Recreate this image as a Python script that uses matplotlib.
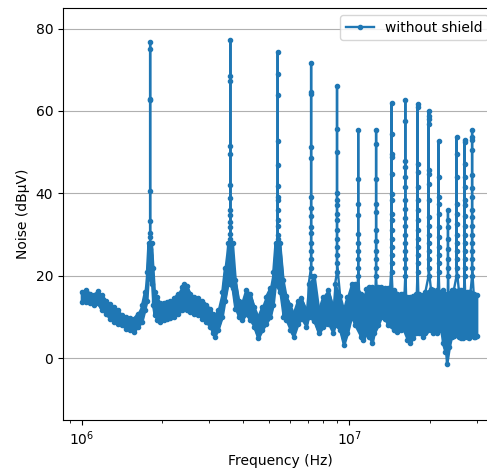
import numpy as np
import matplotlib
matplotlib.use('Agg')
import matplotlib.pyplot as plt

# noise floor: frequency (MHz), lower and upper edge of the band (dBuV)
floor_mhz = [1.000, 1.035, 1.071, 1.109, 1.148, 1.188, 1.230, 1.273, 1.318, 1.364,
             1.412, 1.462, 1.513, 1.566, 1.621, 1.678, 1.720, 1.752, 1.775, 1.822,
             1.845, 1.870, 1.910, 1.960, 2.02, 2.08, 2.14, 2.21, 2.29, 2.37,
             2.42, 2.47, 2.54, 2.63, 2.72, 2.82, 2.92, 3.02, 3.08, 3.14,
             3.23, 3.35, 3.43, 3.52, 3.66, 3.75, 3.86, 3.98, 4.12, 4.26,
             4.41, 4.57, 4.73, 4.89, 5.07, 5.20, 5.30, 5.50, 5.66, 5.81,
             6.02, 6.20, 6.44, 6.62, 6.91, 7.05, 7.40, 7.70, 8.00, 8.35,
             8.70, 8.85, 9.25, 9.55, 9.85, 10.2, 10.5, 11.05, 11.3, 11.6,
             11.9, 12.2, 12.4, 12.85, 13.2, 13.55, 13.95, 14.75, 15.15, 15.55,
             15.9, 16.5, 16.9, 17.35, 17.7, 18.3, 18.8, 19.25, 20.2, 20.65,
             21.2, 21.95, 22.4, 22.9, 23.2, 23.7, 24.15, 24.6, 25.7, 26.2,
             26.6, 27.5, 28.0, 28.4, 29.2, 29.6, 30.0]
floor_lo = [13.6, 13.6, 13.3, 12.8, 13.3, 11.6, 10.8, 9.6, 8.8, 8.4,
            8.0, 7.2, 6.8, 6.4, 7.6, 8.8, 11.6, 14.0, 20.0, 18.0,
            13.0, 10.5, 9.2, 8.8, 9.2, 9.6, 9.8, 10.0, 10.8, 11.6,
            12.0, 11.8, 11.2, 10.8, 10.6, 9.6, 8.8, 7.6, 6.0, 5.2,
            6.8, 10.0, 14.0, 18.0, 17.0, 12.0, 10.0, 9.2, 10.8, 9.2,
            7.6, 4.8, 6.8, 8.4, 10.0, 13.0, 18.0, 16.0, 10.0, 9.2,
            6.8, 5.2, 8.4, 9.6, 7.6, 10.0, 9.0, 6.0, 7.6, 8.4,
            6.0, 8.0, 6.8, 3.2, 6.0, 10.0, 8.0, 5.2, 4.4, 6.0,
            5.2, 3.6, 6.0, 8.0, 10.0, 9.6, 8.0, 6.8, 6.4, 6.8,
            7.0, 4.4, 3.6, 5.0, 6.0, 6.0, 5.2, 6.0, 6.8, 6.0,
            6.2, 6.8, 3.6, 1.5, -1.3, 2.7, 5.2, 5.5, 5.2, 4.8,
            5.0, 5.2, 5.0, 5.5, 5.2, 5.2, 5.4]
floor_hi = [16.1, 16.6, 15.7, 15.3, 16.2, 15.3, 14.0, 13.2, 12.4, 11.6,
            10.4, 10.0, 9.8, 9.6, 10.8, 12.8, 16.0, 21.0, 28.0, 28.0,
            22.0, 16.0, 14.9, 13.3, 13.5, 13.6, 14.0, 14.5, 15.6, 17.3,
            18.0, 17.5, 15.7, 14.9, 14.5, 14.0, 13.0, 12.0, 10.8, 10.0,
            11.6, 16.0, 22.0, 28.0, 28.0, 19.0, 14.0, 13.3, 16.5, 15.7,
            12.4, 10.0, 12.4, 14.9, 17.0, 21.0, 28.0, 28.0, 19.0, 15.0,
            12.8, 10.8, 14.0, 14.5, 11.6, 18.0, 20.0, 11.6, 14.9, 16.5,
            12.4, 18.0, 15.0, 11.6, 14.9, 18.1, 18.0, 15.7, 14.9, 16.9,
            17.3, 17.3, 17.0, 17.3, 17.3, 17.0, 17.0, 16.5, 15.7, 15.7,
            15.5, 14.9, 14.9, 15.0, 15.5, 15.7, 15.3, 16.0, 16.9, 16.5,
            16.5, 16.1, 16.5, 15.7, 14.9, 15.7, 16.5, 16.5, 16.5, 16.5,
            16.3, 16.1, 16.0, 16.0, 15.7, 15.3, 15.3]

# harmonic spikes: frequency (MHz), peak level and the other samples seen on each spike
peak_mhz = [1.8, 3.59, 5.4, 7.2, 9.0, 10.8, 12.6, 14.4, 16.2, 18.0, 19.8, 21.6, 23.4, 25.2, 27.0, 28.8]
peak_top = [76.8, 77.3, 74.4, 71.6, 66.0, 55.3, 55.3, 62.0, 62.6, 61.7, 59.9, 52.6, 35.9, 53.6, 53.0, 55.3]
peak_flank = [
    [75.0, 63.0, 62.7, 40.6, 33.2, 30.3, 29.5, 28, 26.5, 25, 23.5, 22],
    [68.6, 67.2, 51.5, 49.5, 42.1, 38.9, 35.9, 34.7, 33.0, 31.8, 30.2, 29, 27.5, 26, 24.5, 23],
    [69.0, 64.0, 52.6, 47.0, 41.9, 39.1, 38.3, 35.9, 33.6, 32.2, 29.8, 29.0, 27.0, 25, 23, 21],
    [64.6, 64.2, 51.3, 48.5, 39.2, 36.4, 34.4, 31.9, 30.3, 28, 26, 24, 22, 20],
    [55.7, 50.1, 40.1, 38.3, 37.1, 35.1, 33.5, 31.0, 29, 27, 25, 23, 21],
    [43.6, 37.5, 34.7, 30.2, 28, 26, 24, 22, 20],
    [52.1, 43.6, 37.5, 35.5, 31.0, 28.5, 26, 24, 22, 20],
    [54.3, 49.6, 48.8, 44.8, 39.9, 38.3, 35.1, 33.5, 31, 29, 27, 25, 23, 21],
    [57.6, 47.9, 46.3, 43.9, 41.5, 38.3, 36.3, 34, 32, 30, 28, 26, 24, 22, 20],
    [60.9, 47.2, 45.2, 41.5, 38.3, 35.9, 33.5, 31, 29, 27, 25, 23, 21],
    [58.9, 58.1, 56.9, 45.6, 44.8, 42.4, 38.3, 34.3, 32, 30, 28, 26, 24, 22, 20],
    [44.1, 39.1, 37.5, 35.1, 31.8, 29.5, 27, 25, 23, 21],
    [33.5, 31.8, 29, 26.5, 24, 22, 20],
    [49.6, 43.9, 37.5, 35.1, 32.5, 30, 28, 26, 24, 22, 20],
    [52.5, 47.2, 43.9, 41.5, 38.3, 37.1, 34.5, 32, 30, 28, 26, 24, 22, 20],
    [53.7, 52.9, 50.5, 44.4, 41.2, 39.1, 35.9, 34.3, 32, 30, 28, 26, 24, 22, 20],
]

BLUE = '#1f77b4'

# assemble the sweep in frequency order
freq, level = [], []
for i, f in enumerate(floor_mhz):
    pair = [floor_hi[i], floor_lo[i]] if i % 2 == 0 else [floor_lo[i], floor_hi[i]]
    freq += [f, f]
    level += pair
for f, top, fl in zip(peak_mhz, peak_top, peak_flank):
    up = sorted(fl[::2])
    down = sorted(fl[1::2], reverse=True)
    vals = up + [top] + down
    freq += [f] * len(vals)
    level += vals

freq = np.array(freq) * 1e6
level = np.array(level)
order = np.argsort(freq, kind='stable')
freq, level = freq[order], level[order]

fig = plt.figure(figsize=(4.87, 4.70), dpi=100)
ax = fig.add_axes([63 / 487, 50 / 470, 435 / 487, 412 / 470])

# the sweep is so dense that the floor reads as a solid band
ax.fill_between(np.array(floor_mhz) * 1e6, floor_lo, floor_hi,
                color=BLUE, lw=1.5, zorder=1.9)
ax.plot(freq, level, '.-', color=BLUE, lw=1.7, label='without shield', zorder=2)

ax.set_xscale('log')
ax.set_xlim(8.5e5, 3.6e7)
ax.set_ylim(-15, 85)
ax.set_yticks([0, 20, 40, 60, 80])
ax.grid(axis='y')
ax.set_xlabel('Frequency (Hz)')
ax.set_ylabel('Noise (dBµV)')
ax.legend(loc='upper right', bbox_to_anchor=(1 - 3 / 435, 1))

fig.savefig('out.png', dpi=100)
